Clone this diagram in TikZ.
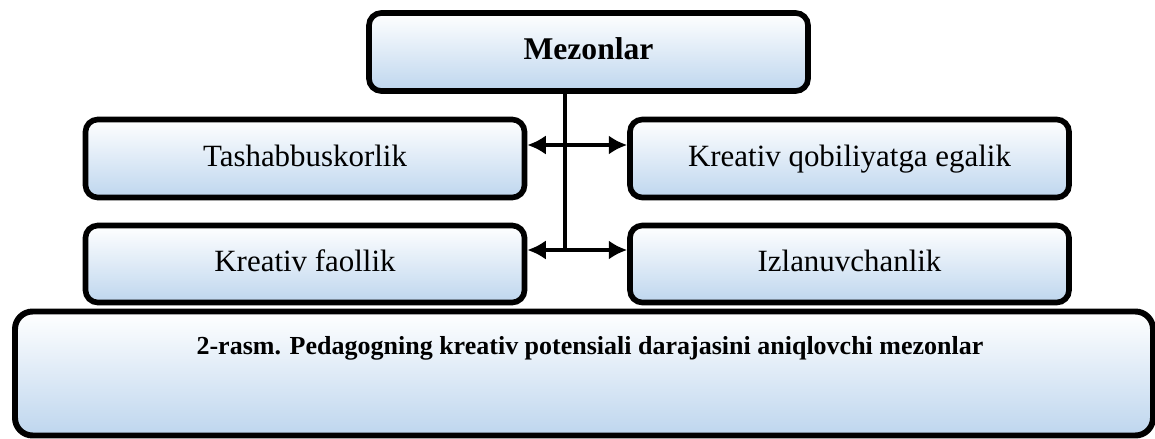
\documentclass[tikz,border=0pt]{standalone}
\usepackage{fontspec}
\setmainfont{Liberation Serif}
\usetikzlibrary{arrows.meta}
\definecolor{boxblue}{RGB}{190,214,238}
\newlength{\pxu}
\setlength{\pxu}{0.02cm}
\tikzset{crit/.style = {shape=rectangle,draw,rounded corners=7pt,line width=3.2pt,
  top color=white,bottom color=boxblue,minimum width=439\pxu,minimum height=78\pxu,
  text height=11pt,text depth=2pt,font=\fontsize{17.6}{21}\selectfont}}
\tikzset{head/.style = {crit,font=\fontsize{18}{21}\selectfont\bfseries}}
\tikzset{capbox/.style = {crit,minimum width=1138\pxu,minimum height=124\pxu,rounded corners=10pt,line width=3.4pt}}
\tikzset{edge/.style = {{Latex[length=10.5pt,width=11pt]}-{Latex[length=10.5pt,width=11pt]},line width=2.4pt}}
\begin{document}
\begin{tikzpicture}[x=0.02cm,y=-0.02cm]
            \useasboundingbox (0,0) rectangle (1155,439);
            \node[head] (mez) at (588.5,52) {Mezonlar};
            \node[crit] (tash) at (305,158.5) {Tashabbuskorlik};
            \node[crit] (kreq) at (849.5,158.5) {Kreativ qobiliyatga egalik};
            \node[crit,minimum height=77\pxu] (kfa) at (305,264) {Kreativ faollik};
            \node[crit,minimum height=77\pxu] (izl) at (849.5,264) {Izlanuvchanlik};
            \node[capbox] (cap) at (584,373.5) {};
            \node[font=\fontsize{14.8}{17}\selectfont\bfseries] (captxt) at (590,348)
                {2-rasm. Pedagogning kreativ potensiali darajasini aniqlovchi mezonlar};
            \coordinate (top) at (565,145);
            \coordinate (bot) at (565,250);
            \draw[line width=2.4pt] (bot |- mez.south) -- (bot);
            \draw[edge] (tash.east |- top) -- (kreq.west |- top);
            \draw[edge] (kfa.east |- bot) -- (izl.west |- bot);
        \end{tikzpicture}
\end{document}
